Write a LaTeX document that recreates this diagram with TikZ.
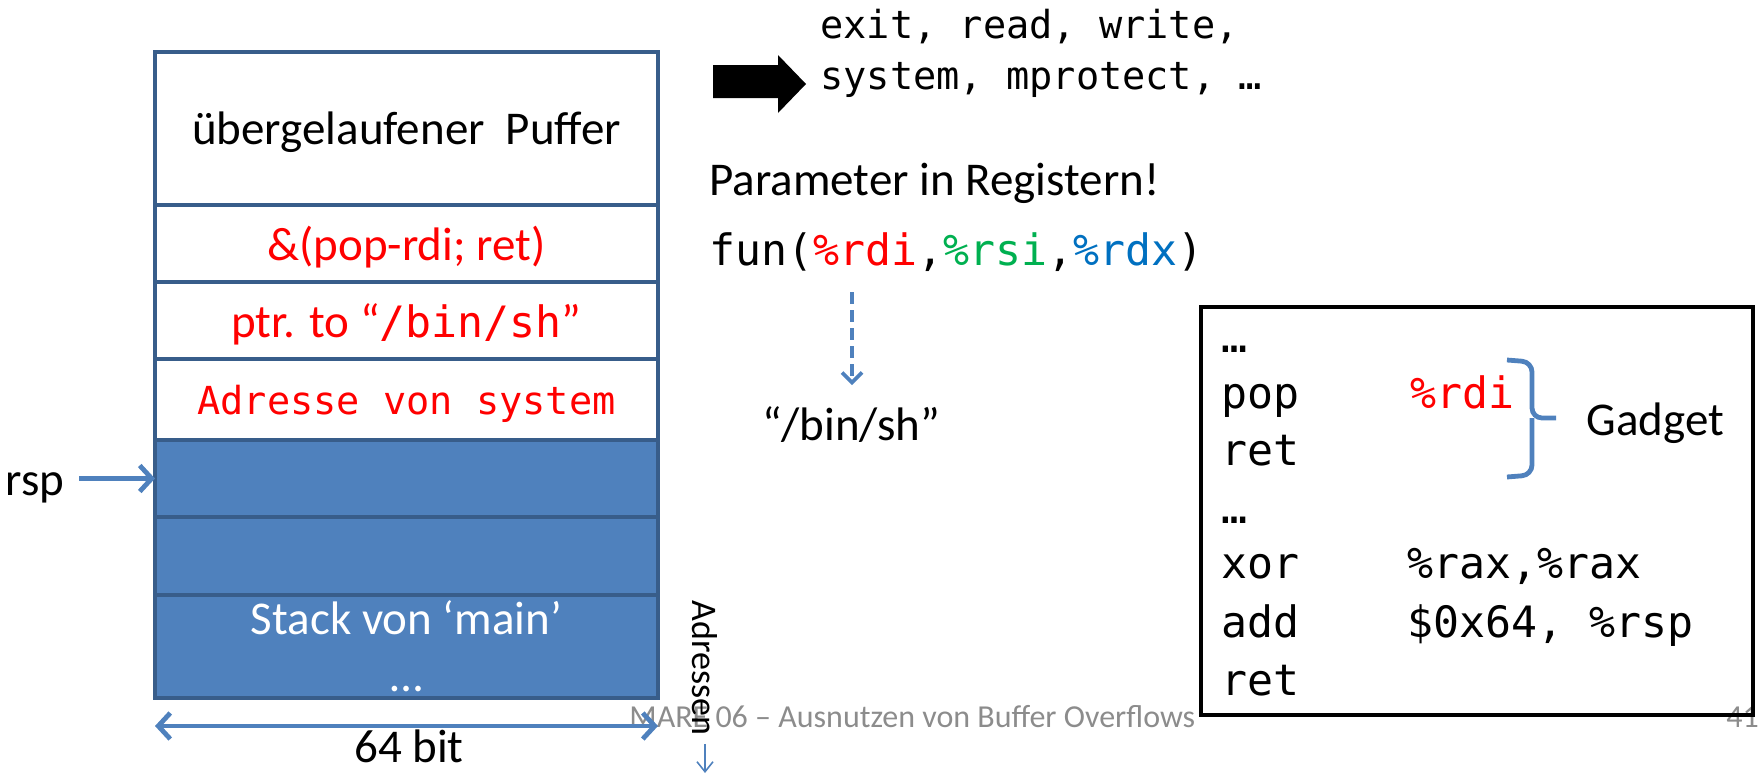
\documentclass[tikz,border=0pt]{standalone}
\usepackage{fontspec}
\setmainfont{Carlito}
\setmonofont{DejaVu Sans Mono}
\usetikzlibrary{positioning,arrows.meta}

\definecolor{stackblue}{HTML}{4F81BD}
\definecolor{stackline}{HTML}{385D8A}
\definecolor{regred}{HTML}{FF0000}
\definecolor{reggreen}{HTML}{00B050}
\definecolor{regblue}{HTML}{0070C0}
\definecolor{footgray}{HTML}{8C8C8C}

\newcommand\txtsize{\fontsize{23.5}{28.5}\selectfont}
\newcommand\codesize{\ttfamily\fontsize{21.6}{26}\selectfont}
\newcommand\callsize{\ttfamily\fontsize{19.3}{24}\selectfont}

\begin{document}
\begin{tikzpicture}[x=0.5pt, y=-0.5pt,
  >={Straight Barb[length=6pt, width=13pt]},
  cell/.style={draw=stackline, line width=2pt, minimum width=251.5pt,
    inner sep=0pt, outer sep=0pt, text depth=0pt, font=\txtsize},
  used/.style={cell, fill=stackblue, text=white},
  bluearrow/.style={draw=stackblue, line width=2.4pt},
  dasharrow/.style={draw=stackblue, line width=1.8pt, dash pattern=on 6pt off 3pt,
    -{Straight Barb[length=5pt, width=10pt]}},
  codeline/.style={anchor=base west, inner sep=0pt, font=\codesize},
  label/.style={anchor=base west, inner sep=0pt, font=\txtsize}]
  \useasboundingbox (0,0) rectangle (1758,776);

  \node[anchor=base west, inner sep=0pt, text=footgray, font=\fontsize{16}{19}\selectfont]
    (footer) at (629,727) {MARE 06 – Ausnutzen von Buffer Overflows};
  \node[anchor=base west, inner sep=0pt, text=footgray, font=\fontsize{16}{19}\selectfont]
    (page) at (1726,727) {41};

  % stack
  \node[cell, minimum height=76.5pt] (r1) at (406.5,128.5) {übergelaufener\hspace{0.45em}Puffer};
  \node[cell, minimum height=38.5pt, below=0pt of r1, text=regred] (r2) {\&(pop-rdi; ret)};
  \node[cell, minimum height=38.5pt, below=0pt of r2, text=regred] (r3) {ptr. to “{\codesize /bin/sh}”};
  \node[cell, minimum height=40.5pt, below=0pt of r3, text=regred, font=\callsize] (r4) {Adresse von system};
  \node[used, minimum height=38.5pt, below=0pt of r4] (r5) {};
  \node[used, minimum height=39pt, below=0pt of r5] (r6) {};
  \node[used, minimum height=51.5pt, below=0pt of r6, align=center] (r7) {Stack von ‘main’\\…};

  \node[anchor=base east, inner sep=0pt, font=\txtsize] (rsp) at (65,495) {rsp};
  \draw[bluearrow, ->] ([xshift=7pt]rsp.east |- r5.west) -- (r5.west);

  \coordinate (wl) at ([yshift=-14pt]r7.south west);
  \coordinate (wr) at ([yshift=-14pt]r7.south east);
  \draw[bluearrow, <->] (wl) -- (wr);
  \node[anchor=base, inner sep=0pt, font=\txtsize] (bits) at (409,762) {64 bit};

  \node[rotate=-90, inner sep=2pt, font=\fontsize{18}{20}\selectfont] (addr) at (705,668) {Adressen};
  \coordinate (addrend) at (705,773);
  \draw[draw=stackblue, line width=0.8pt, -{Straight Barb[length=5pt, width=8pt]}]
    ([yshift=-2pt]addr.east) -- (addrend);

  % calls and registers
  \fill (713,65) -- (778,65) -- (778,55) -- (806,84) -- (778,113) -- (778,98) -- (713,98) -- cycle;
  \node[anchor=base west, inner sep=0pt, font=\callsize] (calls1) at (820,39) {exit, read, write,};
  \node[anchor=base west, inner sep=0pt, font=\callsize] (calls2) at (820,90) {system, mprotect, …};

  \node[label] (params) at (709,195) {Parameter in Registern!};
  \node[codeline] (fun) at (709,265)
    {fun({\color{regred}\%rdi},{\color{reggreen}\%rsi},{\color{regblue}\%rdx})};
  \node[anchor=base, font=\txtsize] (binsh) at (851,440) {“/bin/sh”};
  \coordinate (rdiarg) at (852,292);
  \draw[dasharrow, shorten >=7pt] (rdiarg) -- (rdiarg |- binsh.north);

  % gadget listing
  \node[draw, line width=2pt, minimum width=276pt, minimum height=204pt, inner sep=0pt]
    (codebox) at (1477,511) {};
  \node[codeline] (c1) at (1221,352) {…};
  \node[codeline] (c2) at (1221,408) {pop};
  \node[codeline, text=regred] (c2arg) at (1410,408) {\%rdi};
  \node[codeline] (c3) at (1221,465) {ret};
  \node[codeline] (c4) at (1221,523) {…};
  \node[codeline] (c5) at (1221,578) {xor};
  \node[codeline] (c5arg) at (1407,578) {\%rax,\%rax};
  \node[codeline] (c6) at (1221,637) {add};
  \node[codeline] (c6arg) at (1407,637) {\$0x64, \%rsp};
  \node[codeline] (c7) at (1221,695) {ret};

  \draw[bluearrow, rounded corners=5pt] (1507,360) -- (1532,362) -- (1532,418) -- (1556,418);
  \draw[bluearrow, rounded corners=5pt] (1532,418) -- (1532,475) -- (1507,477);
  \node[label] (gadget) at (1586,435) {Gadget};
\end{tikzpicture}
\end{document}
